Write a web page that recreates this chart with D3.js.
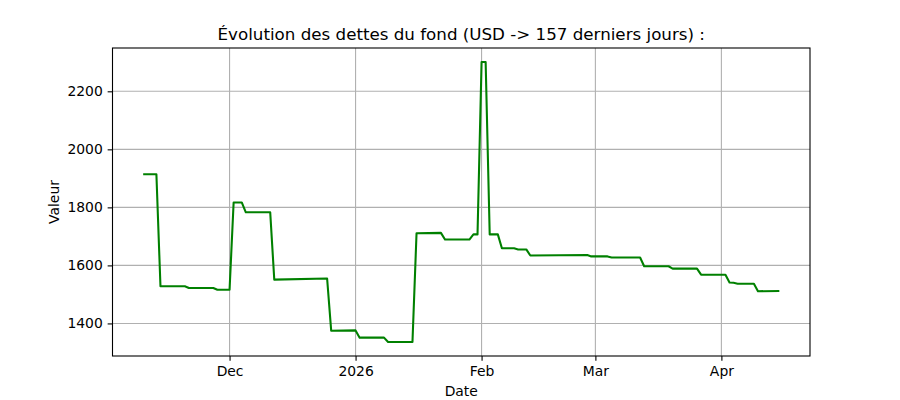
<!DOCTYPE html>
<html>
<head>
<meta charset="utf-8">
<script src="https://cdn.jsdelivr.net/npm/d3@7"></script>
<style>
  html, body { margin: 0; padding: 0; background: #fff; }
  svg { display: block; font-family: "DejaVu Sans", sans-serif; }
</style>
</head>
<body>
<svg id="chart" width="900" height="400"></svg>
<script>
// ---- data (vertices of the series) ----
const dates = [
  "2025-11-10","2025-11-13","2025-11-14","2025-11-20","2025-11-21","2025-11-27","2025-11-28",
  "2025-12-01","2025-12-02","2025-12-04","2025-12-05","2025-12-11","2025-12-12","2025-12-25",
  "2025-12-26","2026-01-01","2026-01-02","2026-01-08","2026-01-09","2026-01-15","2026-01-16",
  "2026-01-22","2026-01-23","2026-01-29","2026-01-30","2026-01-31","2026-02-01","2026-02-02",
  "2026-02-03","2026-02-05","2026-02-06","2026-02-09","2026-02-10","2026-02-12","2026-02-13",
  "2026-02-27","2026-02-28","2026-03-04","2026-03-05","2026-03-12","2026-03-13","2026-03-19",
  "2026-03-20","2026-03-26","2026-03-27","2026-04-02","2026-04-03","2026-04-04","2026-04-05",
  "2026-04-09","2026-04-10","2026-04-15"
];
const values = [
  1914, 1914, 1528, 1528, 1522, 1522, 1516,
  1516, 1817, 1817, 1783, 1783, 1551, 1555,
  1375, 1376, 1351, 1351, 1336, 1336, 1711,
  1712, 1689, 1689, 1707, 1707, 2301, 2301,
  1707, 1707, 1659, 1659, 1655, 1655, 1634,
  1636, 1631, 1631, 1627, 1627, 1597, 1597,
  1589, 1589, 1568, 1568, 1541, 1540, 1537,
  1537, 1511, 1512
];
const xTickDates = ["2025-12-01","2026-01-01","2026-02-01","2026-03-01","2026-04-01"];
const xTickLabels = ["Dec","2026","Feb","Mar","Apr"];
const yTicks = [1400, 1600, 1800, 2000, 2200];
const titleText = "Évolution des dettes du fond (USD -> 157 derniers jours) :";
const xLabel = "Date";
const yLabel = "Valeur";

(function () {
  const mLeft = 112.5, mRight = 810, mTop = 48, mBottom = 356;
  const parse = d3.utcParse("%Y-%m-%d");
  const pts = dates.map((d, i) => ({ date: parse(d), value: values[i] }));

  const xExt = d3.extent(pts, d => +d.date);
  const xPad = (xExt[1] - xExt[0]) * 0.05;
  const x = d3.scaleUtc().domain([new Date(xExt[0] - xPad), new Date(xExt[1] + xPad)]).range([mLeft, mRight]);
  const yExt = d3.extent(pts, d => d.value);
  const yPad = (yExt[1] - yExt[0]) * 0.05;
  const y = d3.scaleLinear().domain([yExt[0] - yPad, yExt[1] + yPad]).range([mBottom, mTop]);

  const svg = d3.select("#chart");
  const fs = 13.9;
  const tickLen = 4.86, tickPad = 4.86;

  // grid
  const grid = svg.append("g");
  grid.selectAll(".gx").data(xTickDates).join("line")
    .attr("x1", d => x(parse(d))).attr("x2", d => x(parse(d)))
    .attr("y1", mTop).attr("y2", mBottom)
    .attr("stroke", "#b0b0b0").attr("stroke-width", 1.1);
  grid.selectAll(".gy").data(yTicks).join("line")
    .attr("x1", mLeft).attr("x2", mRight)
    .attr("y1", d => y(d)).attr("y2", d => y(d))
    .attr("stroke", "#b0b0b0").attr("stroke-width", 1.1);

  // line
  const line = d3.line().x(d => x(d.date)).y(d => y(d.value));
  svg.append("path").datum(pts)
    .attr("d", line)
    .attr("fill", "none")
    .attr("stroke", "#008000")
    .attr("stroke-width", 2.08)
    .attr("stroke-linejoin", "round")
    .attr("stroke-linecap", "square");

  // axes
  const xAxis = d3.axisBottom(x)
    .tickValues(xTickDates.map(parse))
    .tickFormat((d, i) => xTickLabels[i])
    .tickSize(tickLen).tickPadding(tickPad);
  const gx = svg.append("g").attr("transform", `translate(0,${mBottom})`).call(xAxis);
  gx.select(".domain").remove();
  gx.selectAll("line").attr("stroke", "#000").attr("stroke-width", 1.1);
  gx.selectAll("text").attr("fill", "#000").style("font-size", fs + "px").style("font-family", "DejaVu Sans");

  const yAxis = d3.axisLeft(y).tickValues(yTicks).tickFormat(d3.format("d"))
    .tickSize(tickLen).tickPadding(tickPad);
  const gy = svg.append("g").attr("transform", `translate(${mLeft},0)`).call(yAxis);
  gy.select(".domain").remove();
  gy.selectAll("line").attr("stroke", "#000").attr("stroke-width", 1.1);
  gy.selectAll("text").attr("fill", "#000").style("font-size", fs + "px").style("font-family", "DejaVu Sans");

  // frame
  svg.append("rect")
    .attr("x", mLeft).attr("y", mTop)
    .attr("width", mRight - mLeft).attr("height", mBottom - mTop)
    .attr("fill", "none").attr("stroke", "#000").attr("stroke-width", 1.1);

  // title and labels
  svg.append("text").attr("x", (mLeft + mRight) / 2).attr("y", 40)
    .attr("text-anchor", "middle").style("font-size", "16.7px").attr("fill", "#000")
    .text(titleText);
  svg.append("text").attr("x", (mLeft + mRight) / 2).attr("y", 396)
    .attr("text-anchor", "middle").style("font-size", fs + "px").attr("fill", "#000")
    .text(xLabel);
  svg.append("text")
    .attr("transform", `translate(59,${(mTop + mBottom) / 2}) rotate(-90)`)
    .attr("text-anchor", "middle").style("font-size", fs + "px").attr("fill", "#000")
    .text(yLabel);
})();
</script>
</body>
</html>
